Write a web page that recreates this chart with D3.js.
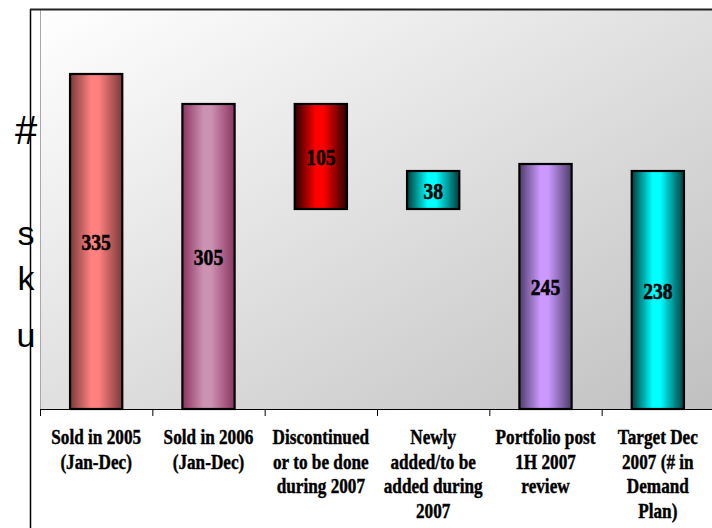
<!DOCTYPE html>
<html>
<head>
<meta charset="utf-8">
<script src="https://cdn.jsdelivr.net/npm/d3@7/dist/d3.min.js"></script>
<style>
  html, body { margin: 0; padding: 0; background: #fff; }
  svg { display: block; }
</style>
</head>
<body>
<svg id="chart" width="712" height="528"></svg>
<script>
// ---- data ----
const categories = [
  ["Sold in 2005", "(Jan-Dec)"],
  ["Sold in 2006", "(Jan-Dec)"],
  ["Discontinued", "or to be done", "during 2007"],
  ["Newly", "added/to be", "added during", "2007"],
  ["Portfolio post", "1H 2007", "review"],
  ["Target Dec", "2007 (# in", "Demand", "Plan)"]
];
const values = [335, 305, 105, 38, 245, 238];
const bases  = [0, 0, 200, 200, 0, 0];
const yAxisTitle = ["#", "s", "k", "u"];
const lightColors = ["#ff8080", "#cc92b2", "#ff0000", "#00ffff", "#cc99ff", "#00ffff"];
const darkColors  = ["#7a3a3a", "#8c3462", "#2a0000", "#003c3c", "#4e3d6a", "#003c3c"];

// ---- layout ----
const svg = d3.select("#chart");
const plot = { left: 40, right: 714, top: 9, bottom: 409 };
const ids = categories.map((c, i) => "c" + i);

const x = d3.scaleBand().domain(ids).range([plot.left, plot.right])
  .paddingInner(0.535).paddingOuter(0.2675);
const y = d3.scaleLinear().domain([0, 400]).range([plot.bottom, plot.top]);

const defs = svg.append("defs");
const bg = defs.append("linearGradient").attr("id", "bg")
  .attr("x1", 0).attr("y1", 0).attr("x2", 1).attr("y2", 1);
bg.append("stop").attr("offset", "0%").attr("stop-color", "#ffffff");
bg.append("stop").attr("offset", "100%").attr("stop-color", "#c0c0c0");

values.forEach((v, i) => {
  const g = defs.append("linearGradient").attr("id", "bar" + i)
    .attr("x1", 0).attr("y1", 0).attr("x2", 1).attr("y2", 0);
  g.append("stop").attr("offset", "0%").attr("stop-color", darkColors[i]);
  g.append("stop").attr("offset", "40%").attr("stop-color", lightColors[i]);
  g.append("stop").attr("offset", "55%").attr("stop-color", lightColors[i]);
  g.append("stop").attr("offset", "100%").attr("stop-color", darkColors[i]);
});

// plot area
svg.append("rect")
  .attr("x", plot.left).attr("y", plot.top)
  .attr("width", plot.right - plot.left).attr("height", plot.bottom - plot.top)
  .attr("fill", "url(#bg)");
svg.append("line")
  .attr("x1", plot.left + 0.5).attr("x2", plot.left + 0.5)
  .attr("y1", plot.top).attr("y2", plot.bottom)
  .attr("stroke", "#a8a8a8").attr("stroke-width", 1);

// y axis title (stacked letters)
const titleY = [144, 245, 290, 347];
svg.append("g").selectAll("text").data(yAxisTitle).join("text")
  .attr("x", 26).attr("y", (d, i) => titleY[i])
  .attr("text-anchor", "middle")
  .attr("font-family", "Liberation Sans, Arial, sans-serif")
  .attr("font-size", (d, i) => i === 0 ? 40 : 34)
  .attr("fill", "#000")
  .text(d => d);

// frame
svg.append("line").attr("x1", 30.5).attr("x2", 30.5).attr("y1", 9).attr("y2", 528)
  .attr("stroke", "#000").attr("stroke-width", 1.5);
svg.append("line").attr("x1", 30).attr("x2", 712).attr("y1", 9.5).attr("y2", 9.5)
  .attr("stroke", "#222").attr("stroke-width", 2);

// bars
svg.append("g").selectAll("rect").data(values).join("rect")
  .attr("x", (d, i) => x(ids[i]))
  .attr("width", x.bandwidth())
  .attr("y", (d, i) => y(bases[i] + d))
  .attr("height", (d, i) => y(bases[i]) - y(bases[i] + d))
  .attr("fill", (d, i) => `url(#bar${i})`)
  .attr("stroke", "#000").attr("stroke-width", 2.2);

// value labels
svg.append("g").selectAll("text").data(values).join("text")
  .attr("transform", (d, i) => {
    const cx = x(ids[i]) + x.bandwidth() / 2;
    const cy = (y(bases[i]) + y(bases[i] + d)) / 2 + 8.5;
    return `translate(${cx},${cy}) scale(0.85,1)`;
  })
  .attr("text-anchor", "middle")
  .attr("font-family", "Liberation Serif, Times New Roman, serif")
  .attr("font-weight", "bold")
  .attr("font-size", 23)
  .attr("fill", "#000")
  .attr("stroke", "#000").attr("stroke-width", 0.6)
  .text(d => d);

// x axis
const xAxisG = svg.append("g");
xAxisG.append("line").attr("x1", plot.left).attr("x2", 712)
  .attr("y1", plot.bottom + 0.5).attr("y2", plot.bottom + 0.5)
  .attr("stroke", "#000").attr("stroke-width", 1);
const step = x.step();
xAxisG.selectAll("line.tick").data(ids).join("line").attr("class", "tick")
  .attr("x1", (d) => x(d) - x.paddingOuter() * step + 0.5)
  .attr("x2", (d) => x(d) - x.paddingOuter() * step + 0.5)
  .attr("y1", plot.bottom).attr("y2", plot.bottom + 7)
  .attr("stroke", "#000").attr("stroke-width", 1);

// category labels
const catG = svg.append("g");
categories.forEach((lines, i) => {
  const cx = x(ids[i]) + x.bandwidth() / 2;
  lines.forEach((t, j) => {
    catG.append("text")
      .attr("transform", `translate(${cx},${444 + j * 24.6}) scale(0.86,1)`)
      .attr("text-anchor", "middle")
      .attr("font-family", "Liberation Serif, Times New Roman, serif")
      .attr("font-weight", "bold")
      .attr("font-size", 20)
      .attr("fill", "#000")
      .attr("stroke", "#000").attr("stroke-width", 0.4)
      .text(t);
  });
});
</script>
</body>
</html>
